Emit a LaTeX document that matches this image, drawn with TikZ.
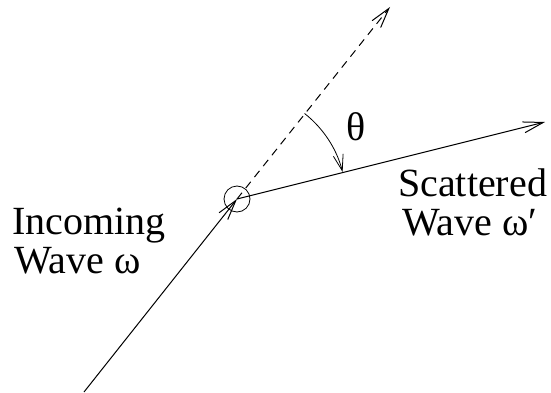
\documentclass[tikz,border=0pt]{standalone}
\usepackage{fontspec}
\setmainfont{Liberation Serif}
\usetikzlibrary{arrows.meta,calc}
\tikzset{
  wave/.style={line width=1pt,-{Straight Barb[length=20pt,width=11pt,line width=1pt]}},
  ghost/.style={wave,dash pattern=on 8pt off 6pt},
  label/.style={anchor=base west,inner sep=0pt,font=\rmfamily\fontsize{40pt}{39pt}\selectfont},
}

\begin{document}
\begin{tikzpicture}[x=1pt,y=1pt]
  \useasboundingbox (0,0) rectangle (551,392);
  % scattering centre
  \node[circle,draw,line width=0.8pt,minimum size=26pt,inner sep=0pt] (ctr) at (237,193) {};
  \coordinate (src) at (84,0);
  \coordinate (fwd) at (390,385);
  \coordinate (out) at (545,270);
  % waves
  \draw[wave] (src) -- (ctr.center);
  \draw[ghost] (ctr.center) -- (fwd);
  \draw[wave] (ctr.center) -- (out);
  % scattering angle
  \draw[line width=0.8pt,-{Straight Barb[length=16pt,width=10pt,line width=0.8pt]}]
    ($(ctr.center)+(51.7:109)$) arc[start angle=51.7,end angle=14.4,radius=109];
  \node[label,anchor=center] (theta) at (356,265) {θ};
  % texts
  \node[label] (inc) at (12,158) {Incoming};
  \node[label] (incw) at (14,119) {Wave ω};
  \node[label] (sca) at (398,196) {Scattered};
  \node[label] (scaw) at (402,157) {Wave ω′};
\end{tikzpicture}
\end{document}
